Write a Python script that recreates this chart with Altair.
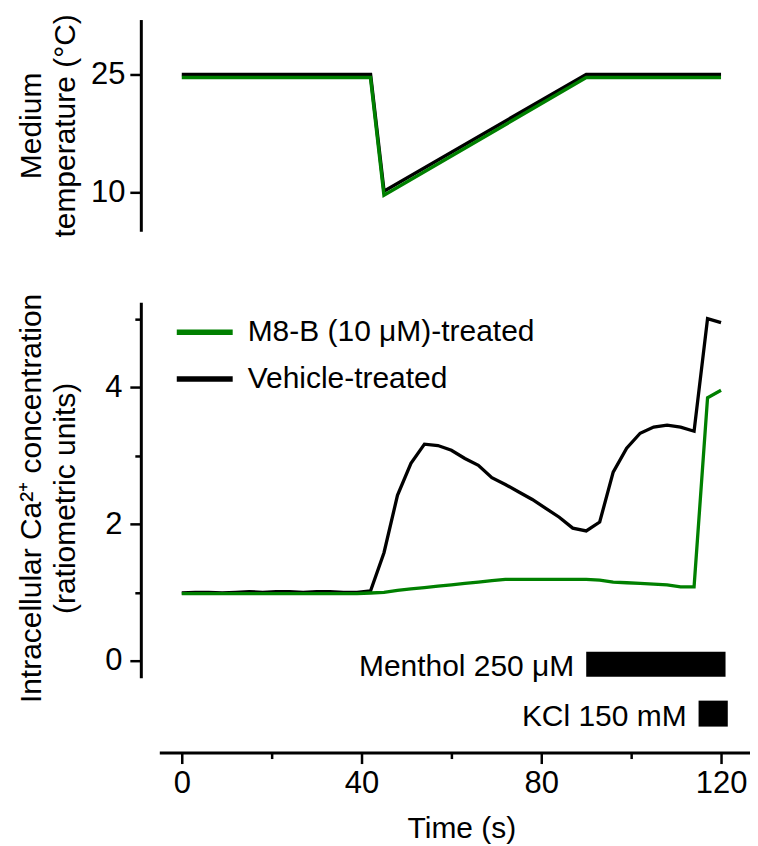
import altair as alt
import pandas as pd

FONT = "Liberation Sans"

# ---------------- data ----------------
time_s = [0, 3, 6, 9, 12, 15, 18, 21, 24, 27, 30, 33, 36, 39, 42, 45, 48, 51, 54, 57,
          60, 63, 66, 69, 72, 75, 78, 81, 84, 87, 90, 93, 96, 99, 102, 105, 108, 111,
          114, 117, 120]
ca_vehicle = [0.99, 1.00, 1.00, 0.99, 1.00, 1.01, 1.00, 1.01, 1.01, 1.00, 1.01, 1.01,
              1.00, 1.00, 1.02, 1.58, 2.42, 2.89, 3.17, 3.15, 3.08, 2.96, 2.86, 2.68,
              2.58, 2.47, 2.36, 2.23, 2.10, 1.94, 1.90, 2.03, 2.76, 3.11, 3.33, 3.42,
              3.45, 3.42, 3.36, 5.01, 4.95]
ca_m8b = [0.98, 0.98, 0.98, 0.98, 0.98, 0.98, 0.98, 0.98, 0.98, 0.98, 0.98, 0.98,
          0.98, 0.98, 0.99, 1.00, 1.03, 1.05, 1.07, 1.09, 1.11, 1.13, 1.15, 1.17,
          1.19, 1.19, 1.19, 1.19, 1.19, 1.19, 1.19, 1.18, 1.15, 1.14, 1.13, 1.12,
          1.11, 1.08, 1.08, 3.85, 3.96]

temp_time = [0, 42, 45, 90, 120]
temp_vehicle = [25.0, 25.0, 10.1, 25.0, 25.0]
temp_m8b = [24.6, 24.6, 9.6, 24.6, 24.6]

series_names = ["M8-B (10 \u03bcM)-treated", "Vehicle-treated"]
series_colors = ["#008000", "#000000"]

stim_labels = ["Menthol 250 \u03bcM", "KCl 150 mM"]
stim_start = [90, 115]
stim_end = [121, 121.5]

x_tick_values = [0, 20, 40, 60, 80, 100, 120]
ca_tick_values = [0, 1, 2, 3, 4, 5]
temp_tick_values = [10, 25]

# ---------------- tables ----------------
ca_df = pd.DataFrame({
    "t": time_s * 2,
    "ca": ca_m8b + ca_vehicle,
    "series": [series_names[0]] * len(time_s) + [series_names[1]] * len(time_s),
})
temp_df = pd.DataFrame({
    "t": temp_time * 2,
    "temp": temp_m8b + temp_vehicle,
    "series": [series_names[0]] * len(temp_time) + [series_names[1]] * len(temp_time),
})
stim_df = pd.DataFrame({"label": stim_labels, "start": stim_start, "end": stim_end})

# ---------------- scales ----------------
W = 610
x_scale = alt.Scale(domain=[-5, 126.4], range=[18.5, 609.8], nice=False, zero=False)
color_scale = alt.Scale(domain=series_names, range=series_colors)

TICK_FS = 31
TITLE_FS = 30
TEXT_FS = 30

# ---------------- top panel ----------------
temp_y = alt.Y(
    "temp:Q",
    scale=alt.Scale(domain=[5, 32], nice=False, zero=False),
    axis=alt.Axis(values=temp_tick_values, title=["Medium", "temperature (\u00b0C)"],
                  tickSize=11, labelPadding=5, titleX=-109, titleBaseline="middle",
                  titleLineHeight=34),
)
temp_x = alt.X("t:Q", scale=x_scale, axis=None)

top_base = alt.Chart(temp_df)
top = alt.layer(
    top_base.transform_filter(alt.datum.series == series_names[1])
    .mark_line(color="#000000", strokeWidth=3.5)
    .encode(x=temp_x, y=temp_y),
    top_base.transform_filter(alt.datum.series == series_names[0])
    .mark_line(color="#008000", strokeWidth=3.5)
    .encode(x=temp_x, y=temp_y),
).properties(width=W, height=212)

# ---------------- calcium panel ----------------
x_axis = alt.Axis(
    values=x_tick_values,
    title="Time (s)",
    offset=75,
    labelExpr="datum.value % 40 === 0 ? datum.label : ''",
    tickSize={"condition": {"test": "datum.value % 40 === 0", "value": 11}, "value": 6},
    labelPadding=5,
    titlePadding=15,
    titleX=321,
)
ca_x = alt.X("t:Q", scale=x_scale, axis=x_axis)
ca_y = alt.Y(
    "ca:Q",
    scale=alt.Scale(domain=[-0.25, 5.25], nice=False, zero=False),
    axis=alt.Axis(
        values=ca_tick_values,
        title=["Intracellular Ca\u00b2\u207a concentration", "(ratiometric units)"],
        labelExpr="datum.value % 2 === 0 ? datum.label : ''",
        tickSize={"condition": {"test": "datum.value % 2 === 0", "value": 11}, "value": 6},
        labelPadding=8,
        titleX=-109,
        titleY=196,
        titleBaseline="middle",
        titleLineHeight=34,
    ),
)
ca_color = alt.Color(
    "series:N",
    scale=color_scale,
    legend=alt.Legend(
        title=None, orient="none", legendX=47, legendY=296,
        symbolType="M-2,0L2,0", symbolSize=784, symbolStrokeWidth=5.5,
        labelFontSize=TEXT_FS, labelFont=FONT, labelColor="#000000", labelLimit=500,
        labelOffset=26, rowPadding=15, padding=0,
    ),
)

ca_base = alt.Chart(ca_df)
vehicle_line = (
    ca_base.transform_filter(alt.datum.series == series_names[1])
    .mark_line(strokeWidth=3.3)
    .encode(x=ca_x, y=ca_y, color=ca_color)
)
m8b_line = (
    ca_base.transform_filter(alt.datum.series == series_names[0])
    .mark_line(strokeWidth=3.3)
    .encode(x=ca_x, y=ca_y, color=ca_color)
)

stim_layers = []
rows_px = [(350, 375), (399, 425)]
for i, (y0, y1) in enumerate(rows_px):
    sub = alt.Chart(stim_df).transform_filter(alt.datum.label == stim_labels[i])
    stim_layers.append(
        sub.mark_rect(color="#000000").encode(
            x=alt.X("start:Q", scale=x_scale, axis=x_axis), x2="end:Q",
            y=alt.value(y0), y2=alt.value(y1))
    )
    stim_layers.append(
        sub.mark_text(align="right", baseline="alphabetic", dx=-12, fontSize=TEXT_FS,
                      font=FONT, color="#000000").encode(
            x=alt.X("start:Q", scale=x_scale, axis=x_axis),
            y=alt.value(y1 - 1), text="label:N")
    )

mid = alt.layer(vehicle_line, m8b_line, *stim_layers).properties(width=W, height=376)

chart = (
    alt.vconcat(top, mid, spacing=71, bounds="flush")
    .properties(padding={"left": 8, "top": 5, "right": 0, "bottom": 5})
    .configure_view(stroke=None)
    .configure_axis(
        grid=False,
        domainColor="#000000", domainWidth=3,
        tickColor="#000000", tickWidth=2.5,
        labelFont=FONT, labelFontSize=TICK_FS, labelColor="#000000",
        titleFont=FONT, titleFontSize=TITLE_FS, titleFontWeight="normal", titleColor="#000000",
    )
    .configure_text(font=FONT)
)

chart.save("out.html", embed_options={"renderer": "svg", "actions": False})
